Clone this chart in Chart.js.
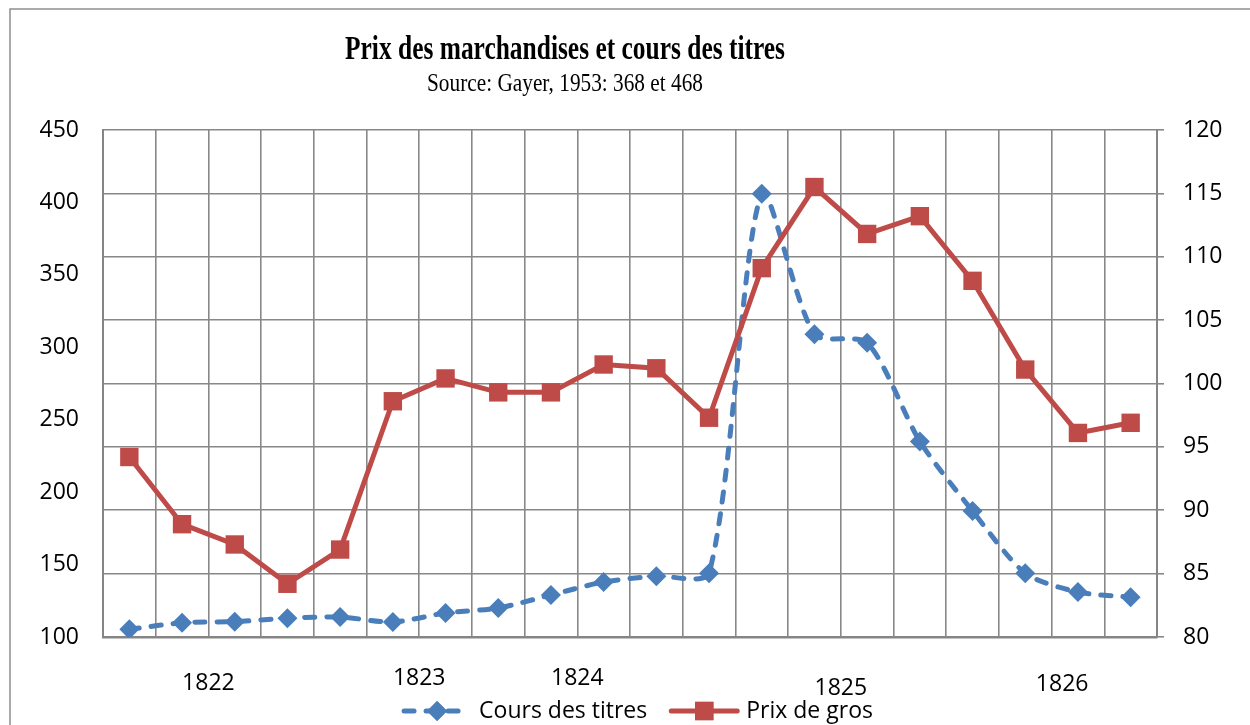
<!DOCTYPE html>
<html>
<head>
<meta charset="utf-8">
<script src="https://cdn.jsdelivr.net/npm/chart.js@4/dist/chart.umd.min.js"></script>
<style>
  html, body { margin: 0; padding: 0; background: #fff; }
</style>
</head>
<body>
<canvas id="chart" width="1250" height="725"></canvas>
<script>
// periods along the x axis (20 observations, 1822-1826)
const PERIODS = ['1', '2', '3', '4', '5', '6', '7', '8', '9', '10',
                 '11', '12', '13', '14', '15', '16', '17', '18', '19', '20'];

// left axis: stock prices
const COURS_TITRES = [105.3, 109.8, 110.6, 113, 113.8, 110.3, 116.6, 120, 129, 138,
                      142, 144, 406, 309, 303.2, 235, 187, 144, 131, 127.5];

// right axis: wholesale prices
const PRIX_GROS = [94.2, 88.9, 87.3, 84.2, 86.9, 98.6, 100.4, 99.3, 99.3, 101.5,
                   101.2, 97.3, 109.1, 115.5, 111.8, 113.2, 108.1, 101.1, 96.1, 96.9];

const YEARS = ['1822', '1823', '1824', '1825', '1826'];

const LEFT_RANGE = [100, 450, 50];
const RIGHT_RANGE = [80, 120, 5];

const TITLE = 'Prix des marchandises et cours des titres';
const SUBTITLE = 'Source: Gayer, 1953: 368 et 468';

const COLORS = {
  blue: '#4a7ebb',
  red: '#be4b48',
  grid: '#888888',
  axis: '#858585',
  text: '#000000',
};
const FONT = "'Open Sans', 'Liberation Sans', sans-serif";

// where the year captions sit, in category units, and their vertical stagger (px)
const YEAR_SLOTS = [1.5, 5.5, 8.5, 13.5, 17.7];
const YEAR_DROP = [46, 41, 41, 51, 47];

// the original text is narrower than any installed face, so squeeze it to width
function squeezedText(ctx, text, x, y, font, targetWidth) {
  ctx.save();
  ctx.font = font;
  const w = ctx.measureText(text).width;
  ctx.translate(x, y);
  ctx.scale(Math.min(1, targetWidth / w), 1);
  ctx.textAlign = 'center';
  ctx.textBaseline = 'alphabetic';
  ctx.fillText(text, 0, 0);
  ctx.restore();
}

const decorations = {
  id: 'decorations',
  afterDraw(chart) {
    const { ctx, chartArea, scales } = chart;
    ctx.save();

    // outer frame (cut off on the right and bottom)
    ctx.strokeStyle = '#8e8e8e';
    ctx.lineWidth = 1.5;
    ctx.strokeRect(10, 9, 1400, 900);

    // title + subtitle
    ctx.fillStyle = COLORS.text;
    squeezedText(ctx, TITLE, 565, 59, "bold 33px 'Liberation Serif', serif", 440);
    squeezedText(ctx, SUBTITLE, 565, 91, "25px 'Liberation Serif', serif", 276);

    // year captions under the axis
    ctx.font = '23px ' + FONT;
    ctx.textAlign = 'center';
    ctx.textBaseline = 'middle';
    YEARS.forEach((y, i) => {
      const x = scales.x.getPixelForValue(YEAR_SLOTS[i]);
      ctx.fillText(y, x, chartArea.bottom + YEAR_DROP[i]);
    });

    // legend
    const items = [
      { label: 'Cours des titres', color: COLORS.blue, dash: [10, 12], style: 'rectRot', r: 10 },
      { label: 'Prix de gros', color: COLORS.red, dash: [], style: 'rect', r: 13 },
    ];
    const lineLen = 72, gapText = 6, gapItem = 21;
    ctx.font = '23px ' + FONT;
    const widths = items.map(it => ctx.measureText(it.label).width);
    const total = items.reduce((s, it, i) => s + lineLen + gapText + widths[i], 0) + gapItem;
    let x = 637 - total / 2;
    const ly = 711;
    items.forEach((it, i) => {
      ctx.save();
      ctx.strokeStyle = it.color;
      ctx.lineWidth = 5;
      ctx.lineCap = 'round';
      ctx.setLineDash(it.dash);
      ctx.beginPath();
      ctx.moveTo(x + 3, ly);
      ctx.lineTo(x + lineLen - 3, ly);
      ctx.stroke();
      ctx.restore();
      ctx.fillStyle = it.color;
      ctx.beginPath();
      Chart.helpers.drawPoint(ctx, { pointStyle: it.style, radius: it.r, borderWidth: 0 }, x + lineLen / 2, ly);
      ctx.fill();
      ctx.fillStyle = COLORS.text;
      ctx.textAlign = 'left';
      ctx.fillText(it.label, x + lineLen + gapText, ly);
      x += lineLen + gapText + widths[i] + gapItem;
    });

    ctx.restore();
  }
};

new Chart(document.getElementById('chart'), {
  type: 'line',
  data: {
    labels: PERIODS,
    datasets: [
      {
        label: 'Cours des titres',
        data: COURS_TITRES,
        yAxisID: 'y',
        borderColor: COLORS.blue,
        backgroundColor: COLORS.blue,
        borderWidth: 5,
        borderDash: [10, 12],
        borderCapStyle: 'round',
        pointStyle: 'rectRot',
        pointRadius: 10,
        pointBorderWidth: 0,
        tension: 0.25,
        order: 1,
      },
      {
        label: 'Prix de gros',
        data: PRIX_GROS,
        yAxisID: 'y1',
        borderColor: COLORS.red,
        backgroundColor: COLORS.red,
        borderWidth: 5,
        pointStyle: 'rect',
        pointRadius: 13,
        pointBorderWidth: 0,
        tension: 0,
        order: 0,
      },
    ],
  },
  options: {
    responsive: false,
    devicePixelRatio: 1,
    animation: false,
    layout: { padding: { top: 130, bottom: 88, left: 0, right: 0 } },
    plugins: {
      legend: { display: false },
      title: { display: false },
      tooltip: { enabled: false },
    },
    scales: {
      x: {
        offset: true,
        grid: { offset: true, color: COLORS.grid, lineWidth: 1.6, drawTicks: false },
        border: { color: COLORS.axis, width: 2.5 },
        ticks: { display: false },
        afterFit: s => { s.height = 0; },
      },
      y: {
        position: 'left',
        min: LEFT_RANGE[0],
        max: LEFT_RANGE[1],
        grid: { display: false, drawTicks: false },
        border: { color: COLORS.axis, width: 2 },
        ticks: { stepSize: LEFT_RANGE[2], padding: 24, color: COLORS.text, font: { family: FONT, size: 23 } },
        afterFit: s => { s.width = 103; },
      },
      y1: {
        position: 'right',
        min: RIGHT_RANGE[0],
        max: RIGHT_RANGE[1],
        grid: { color: COLORS.grid, lineWidth: 1.6, tickLength: 7 },
        border: { color: COLORS.axis, width: 2 },
        ticks: { stepSize: RIGHT_RANGE[2], padding: 19, color: COLORS.text, font: { family: FONT, size: 23 } },
        afterFit: s => { s.width = 93; },
      },
    },
  },
  plugins: [decorations],
});
</script>
</body>
</html>
